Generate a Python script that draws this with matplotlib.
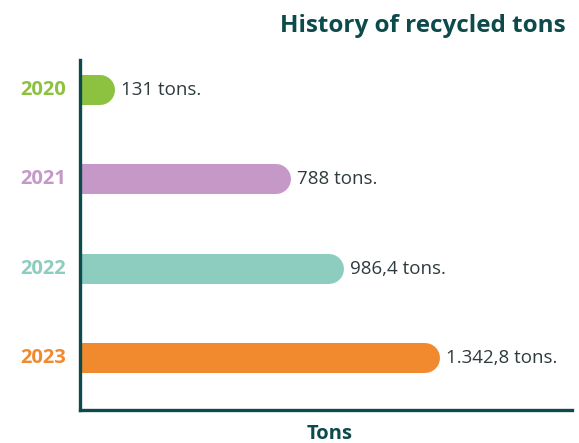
import matplotlib.pyplot as plt

years = ["2020", "2021", "2022", "2023"]
tons = [131, 788, 986.4, 1342.8]
value_labels = ["131 tons.", "788 tons.", "986,4 tons.", "1.342,8 tons."]
colors = ["#8dc140", "#c698c8", "#8dcdbf", "#f18a2e"]

TEAL = "#0d4a4c"
TEXT = "#2e3b3d"
FONT = "Open Sans"

fig = plt.figure(figsize=(5.79, 4.43), dpi=100)
ax = fig.add_axes([80 / 579, 1 - 410 / 443, 492 / 579, 350 / 443])

xmax = 1835
ax.set_xlim(0, xmax)
ax.set_ylim(3.58, -0.336)

# bar thickness in pixels -> points, and the round cap radius in data units
bar_px = 30
half_data = (bar_px / 2) * xmax / 492

for i, (v, c) in enumerate(zip(tons, colors)):
    ax.plot([-half_data * 2, v - half_data], [i, i], color=c,
            linewidth=bar_px * 0.72, solid_capstyle="round", clip_on=True)
    ax.text(v + 6 * xmax / 492, i, value_labels[i], va="center", ha="left",
            fontsize=13.5, color=TEXT, family=FONT)
    ax.text(-14 * xmax / 492, i, years[i], va="center", ha="right",
            fontsize=14.5, fontweight="bold", color=c, family=FONT,
            clip_on=False)

for s in ["top", "right"]:
    ax.spines[s].set_visible(False)
for s in ["left", "bottom"]:
    ax.spines[s].set_color(TEAL)
    ax.spines[s].set_linewidth(2.4)
ax.set_xticks([])
ax.set_yticks([])

fig.text(566 / 579, 1 - 26 / 443, "History of recycled tons", ha="right",
         va="center", fontsize=17.5, fontweight="bold", color=TEAL,
         family=FONT)
fig.text(330 / 579, 1 - 434 / 443, "Tons", ha="center", va="center",
         fontsize=14.5, fontweight="bold", color=TEAL, family=FONT)

fig.savefig("out.png", dpi=100)
